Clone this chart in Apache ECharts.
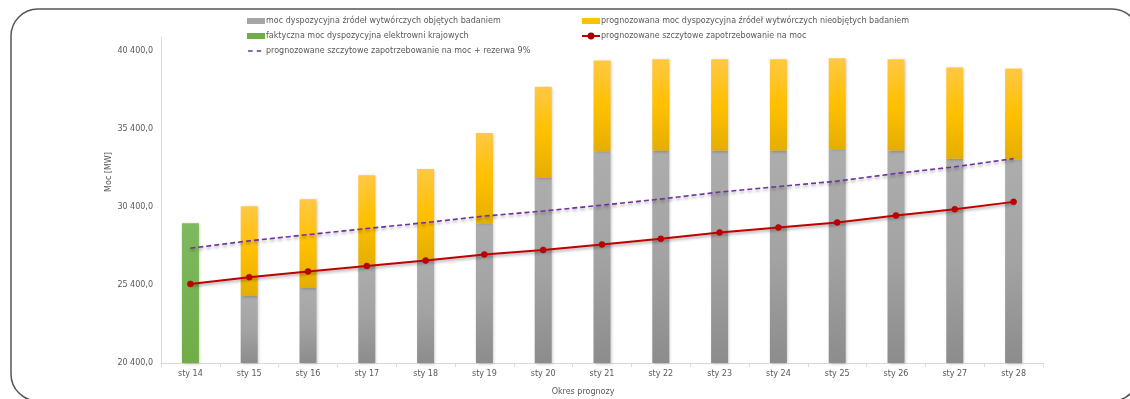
<!DOCTYPE html>
<html>
<head>
<meta charset="utf-8">
<script src="https://cdn.jsdelivr.net/npm/echarts@6/dist/echarts.min.js"></script>
<style>
  html, body { margin: 0; padding: 0; background: #fff; }
  #chart { width: 1130px; height: 399px; }
</style>
</head>
<body>
<div id="chart"></div>
<script>
// Forecast periods (January of each year)
const categories = ['sty 14', 'sty 15', 'sty 16', 'sty 17', 'sty 18', 'sty 19', 'sty 20',
  'sty 21', 'sty 22', 'sty 23', 'sty 24', 'sty 25', 'sty 26', 'sty 27', 'sty 28'];

// Actual available capacity of domestic power plants [MW]
const actualCapacity = [29360, null, null, null, null, null, null, null, null, null, null, null, null, null, null];

// Available capacity of surveyed generating units [MW]
const surveyedCapacity = [null, 24700, 25210, 26700, 27050, 29360, 32260, 33970, 34020, 34020, 34020, 34100, 34020, 33490, 33450];

// Forecast available capacity of units not covered by the survey [MW]
const otherCapacity = [null, 5750, 5690, 5740, 5780, 5780, 5850, 5830, 5850, 5850, 5850, 5830, 5850, 5860, 5830];

// Forecast peak demand [MW]
const peakDemand = [25470, 25900, 26270, 26620, 26970, 27360, 27650, 28000, 28360, 28770, 29090, 29410, 29860, 30260, 30730];

// Forecast peak demand plus 9% reserve [MW]
const demandWithReserve = [27760, 28230, 28630, 29020, 29400, 29820, 30140, 30520, 30910, 31360, 31710, 32060, 32550, 32980, 33500];

const FONT = 'DejaVu Sans';
const TEXT = '#595959';

const names = {
  surveyed: 'moc dyspozycyjna źródeł wytwórczych objętych badaniem',
  other: 'prognozowana moc dyspozycyjna źródeł wytwórczych nieobjętych badaniem',
  actual: 'faktyczna moc dyspozycyjna elektrowni krajowych',
  demand: 'prognozowane szczytowe zapotrzebowanie na moc',
  reserve: 'prognozowane szczytowe zapotrzebowanie na moc + rezerwa 9%'
};

function vGrad(stops) {
  return new echarts.graphic.LinearGradient(0, 0, 0, 1,
    stops.map((c, i) => ({ offset: i / (stops.length - 1), color: c })));
}

function fmtMW(v) {
  const th = Math.floor(v / 1000);
  const rest = String(Math.round(v % 1000)).padStart(3, '0');
  return th + ' ' + rest + ',0';
}

const barShadow = {
  shadowColor: 'rgba(0,0,0,0.22)',
  shadowBlur: 3,
  shadowOffsetX: 1,
  shadowOffsetY: 1
};

// legend swatches: flat colour blocks and a two-dash marker
const rectIcon = 'rect';
const dashIcon = 'path://M0,0h0.01v0.01h-0.01z M18,6h0.01v0.01h-0.01z M1,2.3h4.7v1.4h-4.7z M9.7,2.3h4.5v1.4h-4.5z';

const legendText = { color: TEXT, fontFamily: FONT, fontSize: 8, lineHeight: 10, padding: [0, 0, 0, -4] };

const chart = echarts.init(document.getElementById('chart'));
chart.setOption({
  animation: false,
  backgroundColor: '#fff',
  textStyle: { fontFamily: FONT },
  grid: { left: 161, right: 87, top: 37, bottom: 36, containLabel: false, outerBoundsMode: 'none' },
  legend: [
    {
      left: 247, top: 16, orient: 'vertical', itemGap: 5, padding: 0,
      itemWidth: 18, itemHeight: 6,
      textStyle: legendText,
      data: [
        { name: names.surveyed, icon: rectIcon, itemStyle: { color: '#a6a6a6' } },
        { name: names.actual, icon: rectIcon, itemStyle: { color: '#70ad47' } },
        { name: names.reserve, icon: dashIcon, itemStyle: { color: '#7030a0', borderWidth: 0 } }
      ]
    },
    {
      left: 581, top: 16, orient: 'vertical', itemGap: 5, padding: 0,
      itemWidth: 18, itemHeight: 6,
      textStyle: legendText,
      data: [
        { name: names.other, icon: rectIcon, itemStyle: { color: '#ffc000' } },
        { name: names.demand }
      ]
    }
  ],
  xAxis: {
    type: 'category',
    data: categories,
    boundaryGap: true,
    axisLine: { lineStyle: { color: '#d9d9d9', width: 1 } },
    axisTick: { show: true, length: 4, alignWithLabel: false, lineStyle: { color: '#d9d9d9' } },
    axisLabel: { color: TEXT, fontFamily: FONT, fontSize: 8, margin: 7 },
    splitLine: { show: false }
  },
  yAxis: {
    type: 'value',
    min: 20400,
    max: 41300,
    interval: 5000,
    axisLine: { show: true, lineStyle: { color: '#d9d9d9', width: 1 } },
    axisTick: { show: false },
    splitLine: { show: false },
    axisLabel: {
      color: TEXT, fontFamily: FONT, fontSize: 8, margin: 8,
      formatter: v => ((v - 20400) % 5000 === 0 ? fmtMW(v) : '')
    }
  },
  graphic: [
    {
      type: 'rect', z: -10, silent: true,
      shape: { x: 11, y: 9, width: 1128, height: 392, r: 27 },
      style: { fill: 'none', stroke: '#555555', lineWidth: 1.5 }
    },
    {
      type: 'text', x: 109, y: 172, rotation: Math.PI / 2, silent: true,
      style: { text: 'Moc [MW]', fill: TEXT, font: '8px "DejaVu Sans"', align: 'center', verticalAlign: 'middle' }
    },
    {
      type: 'text', x: 583, y: 392, silent: true,
      style: { text: 'Okres prognozy', fill: TEXT, font: '8px "DejaVu Sans"', align: 'center', verticalAlign: 'middle' }
    }
  ],
  series: [
    {
      name: names.actual,
      type: 'bar', stack: 'capacity', barWidth: 17,
      data: actualCapacity,
      itemStyle: Object.assign({ color: vGrad(['#7fb960', '#70ad47']) }, barShadow)
    },
    {
      name: names.surveyed,
      type: 'bar', stack: 'capacity', barWidth: 17,
      data: surveyedCapacity,
      itemStyle: Object.assign({ color: vGrad(['#adadad', '#a3a3a3', '#8c8c8c']) }, barShadow)
    },
    {
      name: names.other,
      type: 'bar', stack: 'capacity', barWidth: 17,
      data: otherCapacity,
      itemStyle: Object.assign({ color: vGrad(['#ffc844', '#ffc000', '#e5ae00']) }, barShadow)
    },
    {
      name: names.reserve,
      type: 'line', z: 5,
      data: demandWithReserve,
      symbol: 'none',
      lineStyle: {
        color: '#7030a0', width: 1.6, type: [5, 3],
        shadowColor: 'rgba(0,0,0,0.35)', shadowBlur: 3, shadowOffsetY: 2
      },
      itemStyle: { color: '#7030a0' }
    },
    {
      name: names.demand,
      type: 'line', z: 6,
      data: peakDemand,
      symbol: 'circle', symbolSize: 6,
      lineStyle: {
        color: '#c00000', width: 2,
        shadowColor: 'rgba(0,0,0,0.35)', shadowBlur: 3, shadowOffsetY: 2
      },
      itemStyle: { color: '#c00000', borderColor: '#a00000', borderWidth: 0.5 }
    }
  ]
});
</script>
</body>
</html>
